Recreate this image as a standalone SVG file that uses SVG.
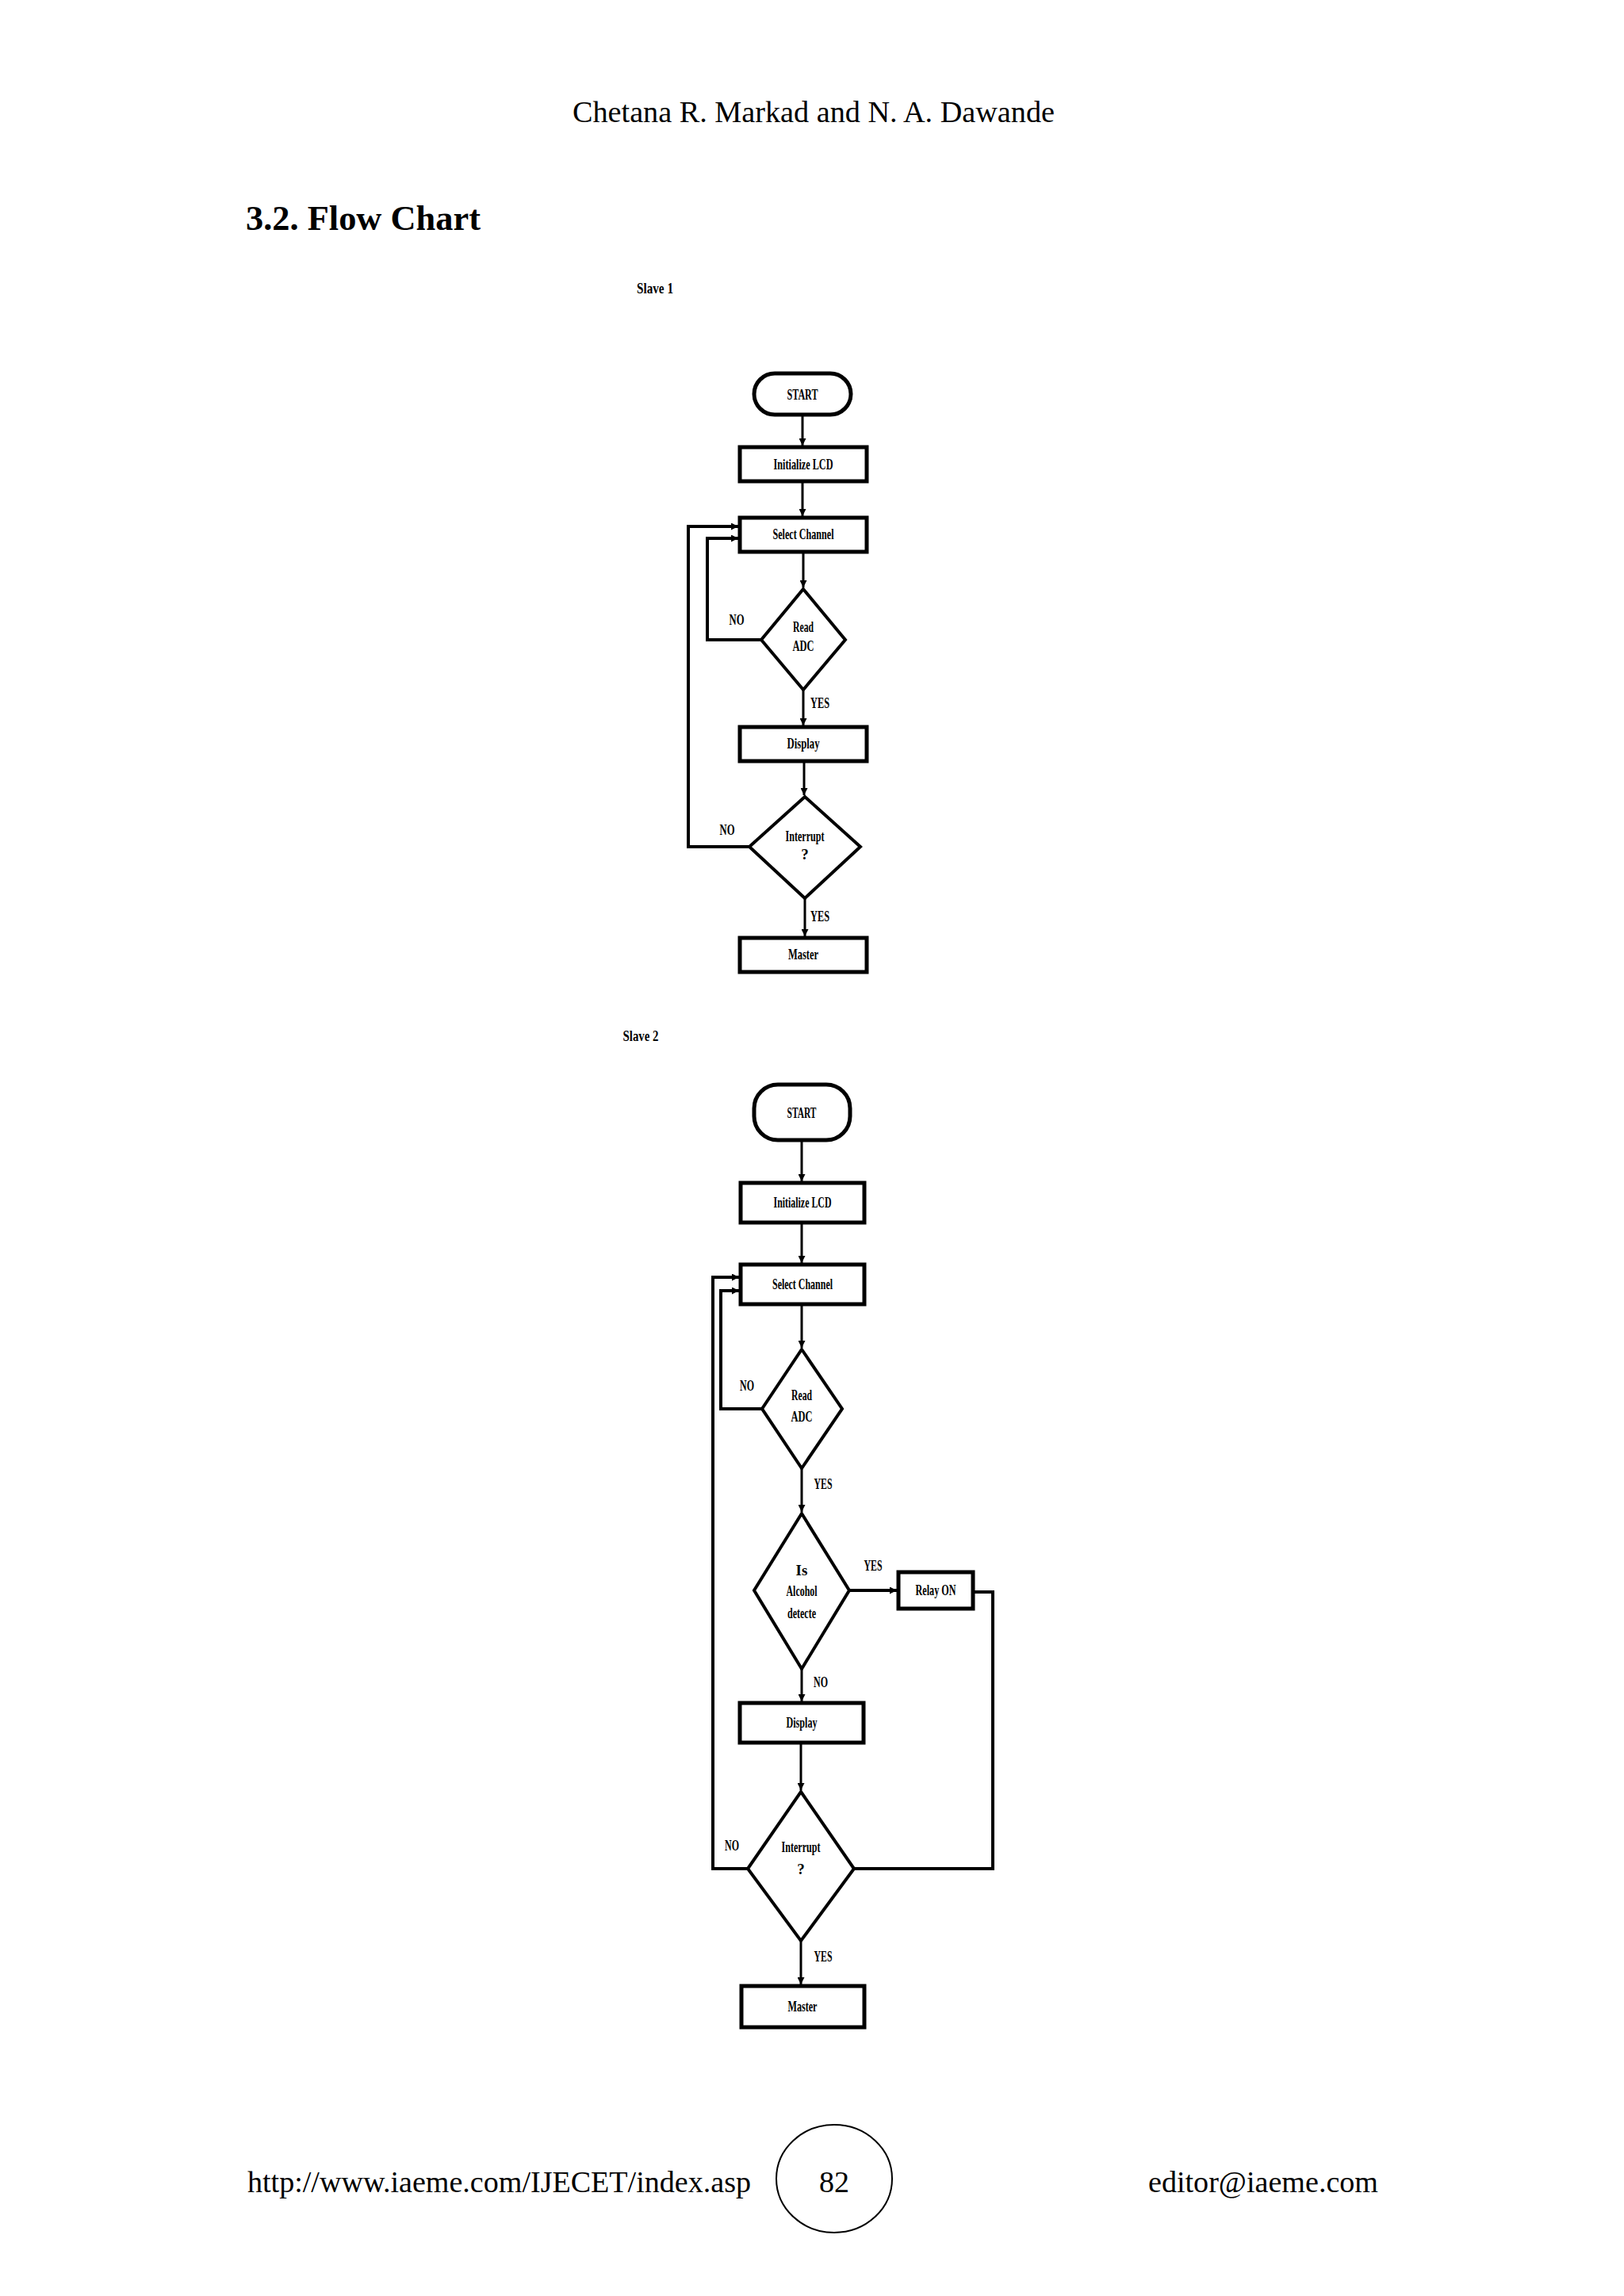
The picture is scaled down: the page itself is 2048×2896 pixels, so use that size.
<svg xmlns="http://www.w3.org/2000/svg" width="2048" height="2896" viewBox="0 0 2048 2896">
<defs>
<marker id="arr" viewBox="0 0 10 10" refX="10" refY="5" markerWidth="10" markerHeight="9" markerUnits="userSpaceOnUse" orient="auto">
<path d="M0,0 L10,5 L0,10 z" fill="#000"/>
</marker>
<style>
.page{font-family:"Liberation Serif","Times New Roman",serif;fill:#000}
.box{fill:#fff;stroke:#000;stroke-width:5}
.dia{fill:#fff;stroke:#000;stroke-width:4;stroke-linejoin:miter}
.lbl{font-family:"Liberation Serif","Times New Roman",serif;font-weight:bold;font-size:19px;text-anchor:middle;fill:#000}
.conn{fill:none;stroke:#000;stroke-width:3}
.loop{fill:none;stroke:#000;stroke-width:4}
</style>
</defs>
<rect width="2048" height="2896" fill="#fff"/>

<g id="page-text">
<text class="page" x="722" y="154" font-size="38" textLength="608" lengthAdjust="spacingAndGlyphs">Chetana R. Markad and N. A. Dawande</text>
<text class="page" x="310" y="290" font-size="44" font-weight="bold" textLength="296" lengthAdjust="spacingAndGlyphs">3.2. Flow Chart</text>
<text class="lbl" x="826" y="370" font-size="22" textLength="46" lengthAdjust="spacingAndGlyphs">Slave 1</text>
<text class="lbl" x="808" y="1313" font-size="22" textLength="45" lengthAdjust="spacingAndGlyphs">Slave 2</text>
<text class="page" x="312" y="2765" font-size="38" textLength="635" lengthAdjust="spacingAndGlyphs">http://www.iaeme.com/IJECET/index.asp</text>
<ellipse cx="1052" cy="2748" rx="73" ry="68" fill="none" stroke="#000" stroke-width="2"/>
<text class="page" x="1052" y="2765" font-size="38" text-anchor="middle">82</text>
<text class="page" x="1448" y="2765" font-size="38" textLength="290" lengthAdjust="spacingAndGlyphs">editor@iaeme.com</text>
</g>

<g id="connectors">
<!-- Slave 1 -->
<path class="conn" d="M1012,523 V562" marker-end="url(#arr)"/>
<path class="conn" d="M1012,607 V651" marker-end="url(#arr)"/>
<path class="conn" d="M1013,696 V741" marker-end="url(#arr)"/>
<path class="conn" d="M1013,870 V915" marker-end="url(#arr)"/>
<path class="conn" d="M1014,960 V1003" marker-end="url(#arr)"/>
<path class="conn" d="M1015,1133 V1181" marker-end="url(#arr)"/>
<path class="loop" d="M960,807 H892 V679 H931" marker-end="url(#arr)"/>
<path class="loop" d="M945,1068 H868 V664 H931" marker-end="url(#arr)"/>
<text class="lbl" x="929" y="788" font-size="17" textLength="19" lengthAdjust="spacingAndGlyphs">NO</text>
<text class="lbl" x="1034" y="893" font-size="17" textLength="24" lengthAdjust="spacingAndGlyphs">YES</text>
<text class="lbl" x="917" y="1053" font-size="17" textLength="19" lengthAdjust="spacingAndGlyphs">NO</text>
<text class="lbl" x="1034" y="1162" font-size="17" textLength="24" lengthAdjust="spacingAndGlyphs">YES</text>
<!-- Slave 2 -->
<path class="conn" d="M1011,1438 V1490" marker-end="url(#arr)"/>
<path class="conn" d="M1011,1542 V1593" marker-end="url(#arr)"/>
<path class="conn" d="M1011,1645 V1700" marker-end="url(#arr)"/>
<path class="conn" d="M1011,1852 V1907" marker-end="url(#arr)"/>
<path class="loop" d="M1071,2006 H1131" marker-end="url(#arr)"/>
<path class="conn" d="M1011,2105 V2146" marker-end="url(#arr)"/>
<path class="conn" d="M1010,2198 V2258" marker-end="url(#arr)"/>
<path class="conn" d="M1010,2448 V2503" marker-end="url(#arr)"/>
<path class="loop" d="M1227,2008 H1252 V2357 H1077"/>
<path class="loop" d="M961,1777 H909 V1628 H932" marker-end="url(#arr)"/>
<path class="loop" d="M943,2357 H899 V1611 H932" marker-end="url(#arr)"/>
<text class="lbl" x="942" y="1754" font-size="18" textLength="18" lengthAdjust="spacingAndGlyphs">NO</text>
<text class="lbl" x="1038" y="1878" font-size="18" textLength="23" lengthAdjust="spacingAndGlyphs">YES</text>
<text class="lbl" x="1101" y="1981" font-size="18" textLength="23" lengthAdjust="spacingAndGlyphs">YES</text>
<text class="lbl" x="1035" y="2128" font-size="18" textLength="18" lengthAdjust="spacingAndGlyphs">NO</text>
<text class="lbl" x="923" y="2334" font-size="18" textLength="18" lengthAdjust="spacingAndGlyphs">NO</text>
<text class="lbl" x="1038" y="2474" font-size="18" textLength="23" lengthAdjust="spacingAndGlyphs">YES</text>
</g>

<g id="s1-start"><rect class="box" x="951" y="471" width="122" height="52" rx="26"/><text class="lbl" x="1012" y="504" textLength="39" lengthAdjust="spacingAndGlyphs">START</text></g>
<g id="s1-init"><rect class="box" x="933" y="564" width="160" height="43"/><text class="lbl" x="1013" y="592" textLength="75" lengthAdjust="spacingAndGlyphs">Initialize LCD</text></g>
<g id="s1-select"><rect class="box" x="933" y="653" width="160" height="43"/><text class="lbl" x="1013" y="680" textLength="77" lengthAdjust="spacingAndGlyphs">Select Channel</text></g>
<g id="s1-read"><polygon class="dia" points="1013,743 1066,807 1013,870 960,807"/><text class="lbl" x="1013" y="797" textLength="26" lengthAdjust="spacingAndGlyphs">Read</text><text class="lbl" x="1013" y="821" textLength="27" lengthAdjust="spacingAndGlyphs">ADC</text></g>
<g id="s1-display"><rect class="box" x="933" y="917" width="160" height="43"/><text class="lbl" x="1013" y="944" textLength="41" lengthAdjust="spacingAndGlyphs">Display</text></g>
<g id="s1-interrupt"><polygon class="dia" points="1015,1005 1085,1068 1015,1133 945,1068"/><text class="lbl" x="1015" y="1061" textLength="49" lengthAdjust="spacingAndGlyphs">Interrupt</text><text class="lbl" x="1015" y="1084">?</text></g>
<g id="s1-master"><rect class="box" x="933" y="1183" width="160" height="43"/><text class="lbl" x="1013" y="1210" textLength="38" lengthAdjust="spacingAndGlyphs">Master</text></g>

<g id="s2-start"><rect class="box" x="951" y="1368" width="121" height="70" rx="30"/><text class="lbl" x="1011" y="1410" textLength="37" lengthAdjust="spacingAndGlyphs">START</text></g>
<g id="s2-init"><rect class="box" x="934" y="1492" width="156" height="50"/><text class="lbl" x="1012" y="1523" textLength="73" lengthAdjust="spacingAndGlyphs">Initialize LCD</text></g>
<g id="s2-select"><rect class="box" x="934" y="1595" width="156" height="50"/><text class="lbl" x="1012" y="1626" textLength="76" lengthAdjust="spacingAndGlyphs">Select Channel</text></g>
<g id="s2-read"><polygon class="dia" points="1011,1702 1062,1777 1011,1852 961,1777"/><text class="lbl" x="1011" y="1766" textLength="26" lengthAdjust="spacingAndGlyphs">Read</text><text class="lbl" x="1011" y="1793" textLength="27" lengthAdjust="spacingAndGlyphs">ADC</text></g>
<g id="s2-alcohol"><polygon class="dia" points="1011,1909 1071,2006 1011,2105 951,2006"/><text class="lbl" x="1011" y="1987">Is</text><text class="lbl" x="1011" y="2013" textLength="39" lengthAdjust="spacingAndGlyphs">Alcohol</text><text class="lbl" x="1011" y="2041" textLength="36" lengthAdjust="spacingAndGlyphs">detecte</text></g>
<g id="s2-relay"><rect class="box" x="1133" y="1983" width="94" height="46"/><text class="lbl" x="1180" y="2012" textLength="51" lengthAdjust="spacingAndGlyphs">Relay ON</text></g>
<g id="s2-display"><rect class="box" x="933" y="2148" width="156" height="50"/><text class="lbl" x="1011" y="2179" textLength="39" lengthAdjust="spacingAndGlyphs">Display</text></g>
<g id="s2-interrupt"><polygon class="dia" points="1010,2260 1077,2357 1010,2448 943,2357"/><text class="lbl" x="1010" y="2336" textLength="49" lengthAdjust="spacingAndGlyphs">Interrupt</text><text class="lbl" x="1010" y="2364">?</text></g>
<g id="s2-master"><rect class="box" x="935" y="2505" width="155" height="52"/><text class="lbl" x="1012" y="2537" textLength="37" lengthAdjust="spacingAndGlyphs">Master</text></g>
</svg>
